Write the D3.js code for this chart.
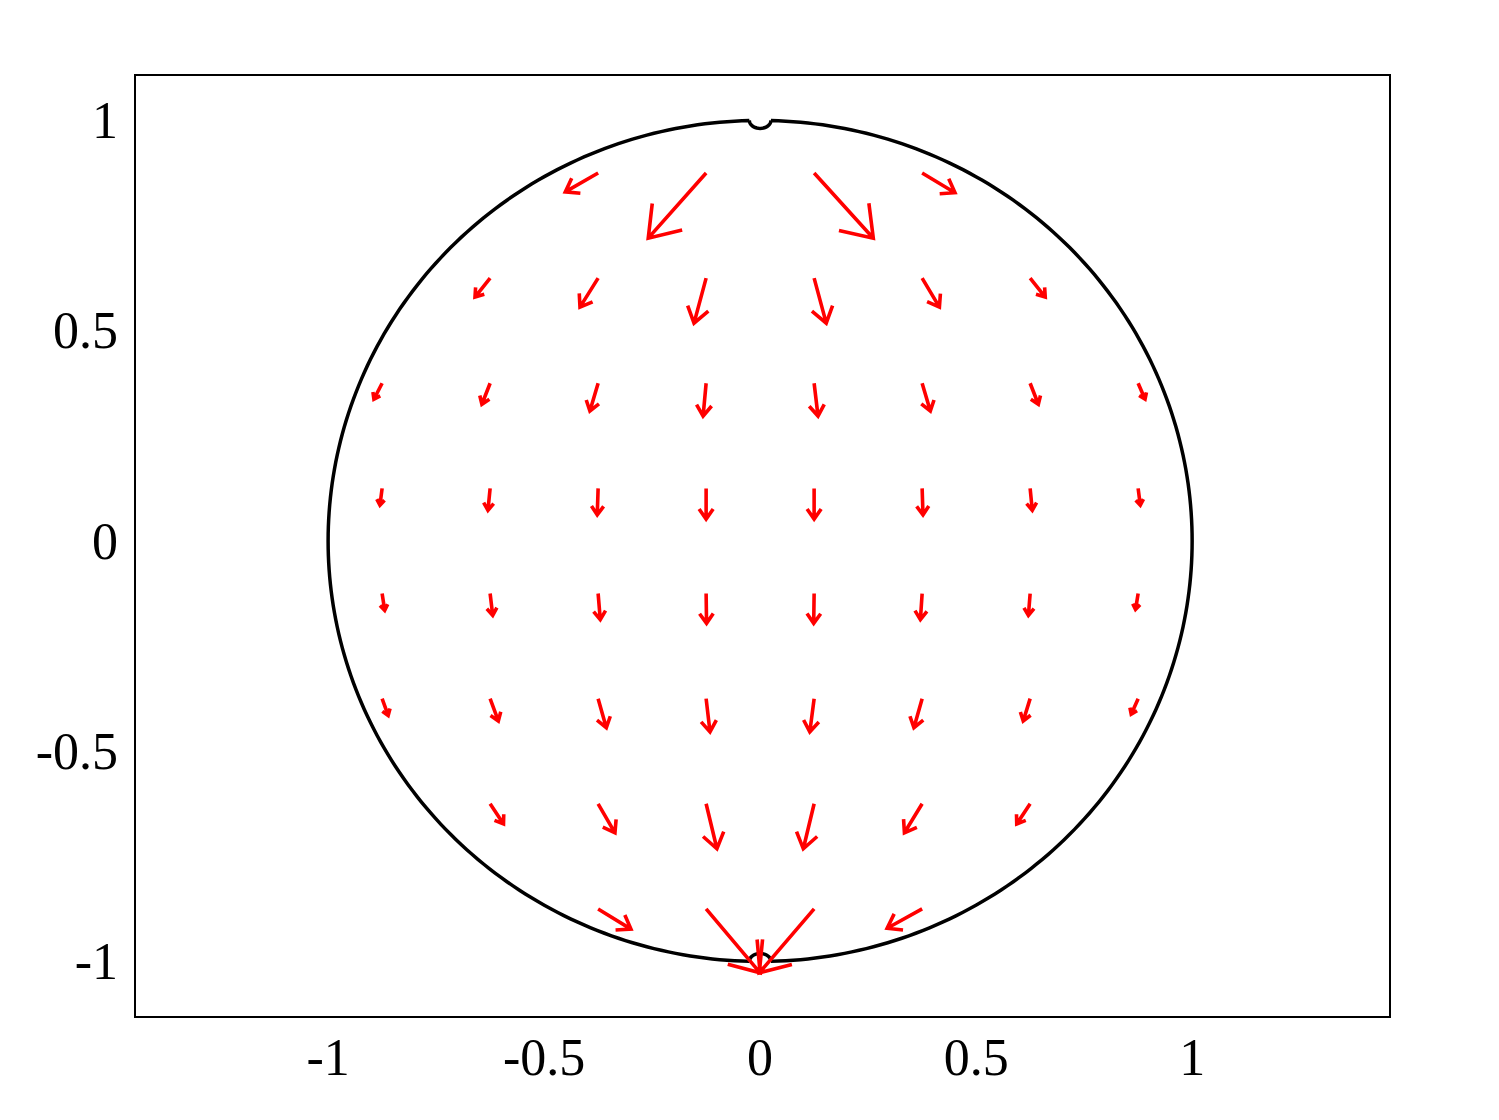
<!DOCTYPE html>
<html>
<head>
<meta charset="utf-8">
<script src="https://cdn.jsdelivr.net/npm/d3@7"></script>
<style>
  body { margin: 0; background: #fff; }
  text { font-family: "Liberation Serif", "Times New Roman", serif; font-size: 52px; fill: #000; }
</style>
</head>
<body>
<div id="chart"></div>
<script>
var WIDTH = 1499,
    HEIGHT = 1120;

// frame of the plot in pixels
var margin = {top: 75, right: 109, bottom: 103, left: 135},
    width = WIDTH - margin.left - margin.right,
    height = HEIGHT - margin.top - margin.bottom;

var X_DOMAIN = [-1.447, 1.458],
    Y_DOMAIN = [-1.132, 1.108];

var xTicks = [-1, -0.5, 0, 0.5, 1],
    yTicks = [-1, -0.5, 0, 0.5, 1];

// boundary: unit circle with a small dent at each pole
var RADIUS = 1,
    DENT = 0.025,
    DENT_DEPTH = 0.019;

// quiver rows (y of the grid row), the x of each arrow, and the vector (u, v)
var rowY = [0.875, 0.625, 0.375, 0.125, -0.125, -0.375, -0.625, -0.875];
var rowX = [
  [-0.375, -0.125, 0.125, 0.375],
  [-0.625, -0.375, -0.125, 0.125, 0.375, 0.625],
  [-0.875, -0.625, -0.375, -0.125, 0.125, 0.375, 0.625, 0.875],
  [-0.875, -0.625, -0.375, -0.125, 0.125, 0.375, 0.625, 0.875],
  [-0.875, -0.625, -0.375, -0.125, 0.125, 0.375, 0.625, 0.875],
  [-0.875, -0.625, -0.375, -0.125, 0.125, 0.375, 0.625, 0.875],
  [-0.625, -0.375, -0.125, 0.125, 0.375, 0.625],
  [-0.375, -0.125, 0.125, 0.375]
];
var rowU = [
  [-0.076, -0.134, 0.137, 0.076],
  [-0.035, -0.042, -0.028, 0.028, 0.040, 0.035],
  [-0.019, -0.019, -0.019, -0.007, 0.009, 0.019, 0.019, 0.016],
  [-0.005, -0.005, -0.002, 0, 0, 0.002, 0.005, 0.005],
  [0.006, 0.006, 0.005, 0.001, -0.001, -0.004, -0.004, -0.006],
  [0.014, 0.019, 0.019, 0.009, -0.010, -0.019, -0.016, -0.016],
  [0.031, 0.039, 0.025, -0.025, -0.041, -0.031],
  [0.076, 0.125, -0.127, -0.081]
];
var rowV = [
  [-0.045, -0.155, -0.155, -0.047],
  [-0.045, -0.069, -0.107, -0.107, -0.069, -0.045],
  [-0.038, -0.050, -0.066, -0.078, -0.078, -0.066, -0.050, -0.038],
  [-0.040, -0.052, -0.063, -0.073, -0.073, -0.063, -0.052, -0.040],
  [-0.040, -0.052, -0.062, -0.071, -0.071, -0.062, -0.052, -0.038],
  [-0.040, -0.053, -0.069, -0.079, -0.079, -0.069, -0.053, -0.037],
  [-0.048, -0.069, -0.107, -0.107, -0.069, -0.048],
  [-0.048, -0.152, -0.152, -0.046]
];

var HEAD = 0.4,                 // head length, fraction of arrow
    HEAD_ANGLE = 35 * Math.PI / 180;

var svg = d3.select('#chart').append('svg')
    .attr('width', WIDTH)
    .attr('height', HEIGHT);

var x = d3.scaleLinear().domain(X_DOMAIN).range([margin.left, margin.left + width]);
var y = d3.scaleLinear().domain(Y_DOMAIN).range([margin.top + height, margin.top]);

// build the boundary points
var boundary = [];
var a0 = Math.asin(DENT / RADIUS);
// left half, top to bottom
d3.range(0, 181).forEach(i => {
  var t = Math.PI / 2 + a0 + (Math.PI - 2 * a0) * i / 180;
  boundary.push([RADIUS * Math.cos(t), RADIUS * Math.sin(t)]);
});
// bump at the bottom pole (inward)
d3.range(0, 21).forEach(i => {
  var p = Math.PI - Math.PI * i / 20;
  boundary.push([DENT * Math.cos(p), -RADIUS + DENT_DEPTH * Math.sin(p)]);
});
// right half, bottom to top
d3.range(0, 181).forEach(i => {
  var t = -Math.PI / 2 + a0 + (Math.PI - 2 * a0) * i / 180;
  boundary.push([RADIUS * Math.cos(t), RADIUS * Math.sin(t)]);
});
// dent at the top pole (inward)
d3.range(0, 21).forEach(i => {
  var p = Math.PI * i / 20;
  boundary.push([DENT * Math.cos(p), RADIUS - DENT_DEPTH * Math.sin(p)]);
});

var line = d3.line().x(d => x(d[0])).y(d => y(d[1]));

svg.append('path')
    .datum(boundary)
    .attr('d', d => line(d) + 'Z')
    .attr('fill', 'none')
    .attr('stroke', '#000')
    .attr('stroke-width', 3.5);

// arrows
var arrows = [];
rowY.forEach((yy, r) => {
  rowX[r].forEach((xx, c) => {
    arrows.push({x: xx, y: yy, u: rowU[r][c], v: rowV[r][c]});
  });
});

function arrowPath(d) {
  var x0 = x(d.x), y0 = y(d.y),
      x1 = x(d.x + d.u), y1 = y(d.y + d.v);
  var dx = x1 - x0, dy = y1 - y0;
  var L = Math.sqrt(dx * dx + dy * dy);
  var ang = Math.atan2(-dy, -dx);
  var h = HEAD * L;
  var w1 = [x1 + h * Math.cos(ang + HEAD_ANGLE), y1 + h * Math.sin(ang + HEAD_ANGLE)],
      w2 = [x1 + h * Math.cos(ang - HEAD_ANGLE), y1 + h * Math.sin(ang - HEAD_ANGLE)];
  return `M${x0},${y0}L${x1},${y1}M${w1[0]},${w1[1]}L${x1},${y1}L${w2[0]},${w2[1]}`;
}

svg.append('g')
    .attr('class', 'quiver')
  .selectAll('path')
    .data(arrows)
    .enter()
    .append('path')
    .attr('d', arrowPath)
    .attr('fill', 'none')
    .attr('stroke', '#ff0000')
    .attr('stroke-width', 3.6)
    .attr('stroke-linejoin', 'miter');

// frame
svg.append('rect')
    .attr('x', margin.left)
    .attr('y', margin.top)
    .attr('width', width)
    .attr('height', height)
    .attr('fill', 'none')
    .attr('stroke', '#000')
    .attr('stroke-width', 2);

// tick labels (no tick marks in the original)
svg.append('g')
  .selectAll('text')
    .data(xTicks)
    .enter()
    .append('text')
    .attr('x', d => x(d))
    .attr('y', 1075)
    .attr('text-anchor', 'middle')
    .text(d => d3.format('')(d).replace('−', '-'));

svg.append('g')
  .selectAll('text')
    .data(yTicks)
    .enter()
    .append('text')
    .attr('x', 118)
    .attr('y', d => y(d))
    .attr('dy', '0.34em')
    .attr('text-anchor', 'end')
    .text(d => d3.format('')(d).replace('−', '-'));
</script>
</body>
</html>
